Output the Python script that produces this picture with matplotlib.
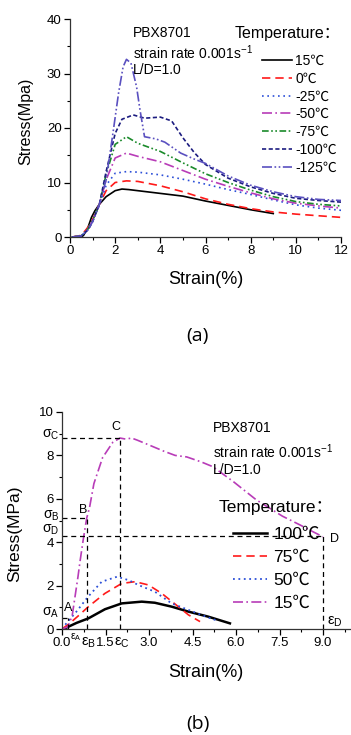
import matplotlib
matplotlib.use('Agg')
import matplotlib.pyplot as plt
from matplotlib.ticker import MultipleLocator

plt.rcParams['font.family'] = ['Liberation Sans', 'Noto Sans CJK SC']
plt.rcParams['axes.linewidth'] = 0.9
plt.rcParams['axes.edgecolor'] = '#333333'

# ---- panel (a): stress-strain at low temperatures ----
temps_a = ['15℃', '0℃', '-25℃', '-50℃', '-75℃', '-100℃', '-125℃']

strain_a15 = [0.1, 0.5, 0.6, 0.8, 0.95, 1.1, 1.3, 1.6, 2.0, 2.3, 2.6, 3.0, 4.0, 5.0, 6.0, 7.0, 8.0, 9.0]
stress_a15 = [0, 0, 0.3, 1.8, 3.6, 4.8, 6.0, 7.4, 8.5, 8.8, 8.7, 8.5, 8.0, 7.5, 6.6, 5.8, 5.0, 4.3]

strain_a = [0.1, 0.5, 0.8, 1.0, 1.3, 1.6, 2.0, 2.5, 3.0, 4.0, 5.0, 6.0, 7.0, 8.0, 9.0, 10.0, 11.0, 12.0]
stress_a0 = [0, 0.3, 1.8, 3.2, 6.0, 8.5, 10.0, 10.3, 10.2, 9.4, 8.3, 7.0, 6.0, 5.2, 4.6, 4.2, 3.9, 3.6]
stress_am25 = [0, 0.2, 1.5, 3.0, 5.8, 9.5, 11.7, 12.0, 11.9, 11.4, 10.6, 9.7, 8.7, 7.8, 6.8, 5.9, 5.3, 4.9]
stress_am50 = [0, 0.2, 1.5, 3.0, 6.0, 10.5, 14.5, 15.4, 14.8, 13.8, 12.2, 10.6, 9.3, 8.1, 7.0, 6.2, 5.7, 5.3]
stress_am75 = [0, 0.2, 1.5, 3.0, 6.0, 11.5, 17.0, 18.4, 17.2, 15.7, 13.6, 11.6, 10.0, 8.6, 7.4, 6.5, 6.0, 5.7]

strain_am100 = [0.1, 0.5, 0.8, 1.0, 1.3, 1.6, 2.0, 2.3, 2.8, 3.3, 4.0, 4.5, 5.0, 5.5, 6.0, 7.0, 8.0, 9.0, 10.0, 11.0, 12.0]
stress_am100 = [0, 0.2, 1.3, 2.8, 6.0, 12.0, 19.0, 21.6, 22.4, 21.8, 22.0, 21.3, 18.2, 15.5, 13.3, 10.8, 9.2, 8.0, 7.1, 6.7, 6.4]

strain_am125 = [0.1, 0.5, 0.8, 1.0, 1.3, 1.6, 1.9, 2.15, 2.35, 2.5, 2.7, 2.95, 3.1, 3.3, 3.8, 4.2, 4.9, 5.5, 6.0, 7.0, 8.0, 9.0, 10.0, 11.0, 12.0]
stress_am125 = [0, 0.2, 1.3, 2.8, 6.0, 10.5, 19.0, 26.4, 31.2, 32.6, 31.9, 27.5, 23.3, 18.4, 18.0, 17.4, 15.4, 14.3, 13.5, 11.2, 9.5, 8.3, 7.4, 6.9, 6.7]

# ---- panel (b): stress-strain at high temperatures ----
temps_b = ['100℃', '75℃', '50℃', '15℃']

strain_b100 = [0, 0.1, 0.5, 0.91, 1.48, 2.06, 2.75, 3.2, 3.78, 4.36, 5.04, 5.79]
stress_b100 = [0, 0.03, 0.28, 0.49, 0.91, 1.18, 1.26, 1.21, 1.03, 0.8, 0.57, 0.26]

strain_b75 = [0, 0.3, 0.6, 0.91, 1.48, 2.06, 2.52, 2.98, 3.44, 4.01, 4.36, 4.76]
stress_b75 = [0, 0.3, 0.65, 1.03, 1.64, 2.1, 2.18, 2.03, 1.64, 1.03, 0.65, 0.34]

strain_b50 = [0, 0.2, 0.45, 0.9, 1.37, 1.9, 2.3, 2.63, 3.2, 3.78, 4.36, 4.9, 5.3]
stress_b50 = [0, 0.35, 0.72, 1.49, 2.18, 2.41, 2.25, 2.03, 1.72, 1.18, 0.88, 0.6, 0.41]

strain_b15 = [0, 0.2, 0.35, 0.45, 0.55, 0.62, 0.73, 0.85, 0.95, 1.1, 1.4, 1.75, 2.0, 2.2, 2.4, 2.6,
              3.0, 3.5, 3.9, 4.3, 4.8, 5.2, 5.9, 6.7, 7.6, 8.2, 8.7, 9.0]
stress_b15 = [0, 0.1, 0.6, 1.5, 2.4, 3.1, 4.1, 5.1, 5.6, 6.7, 7.9, 8.6, 8.8, 8.75, 8.8, 8.7,
              8.48, 8.2, 8.0, 7.93, 7.7, 7.48, 6.8, 5.95, 5.2, 4.8, 4.45, 4.25]

# characteristic points A, B, C, D (strain, stress)
pt_A = (0.22, 0.5)
pt_B = (0.85, 5.1)
pt_C = (2.0, 8.8)
pt_D = (9.0, 4.28)

fig = plt.figure(figsize=(3.51, 7.35), dpi=100)

# ================= (a) =================
ax1 = fig.add_axes([70/351, 1-237/735, 271/351, 218/735])
ax1.plot(strain_a15, stress_a15, color='black', lw=1.2, ls='-', label=temps_a[0])
ax1.plot(strain_a, stress_a0, color='#ff1a1a', lw=1.2, ls=(0, (5, 3)), label=temps_a[1])
ax1.plot(strain_a, stress_am25, color='#2c4fd8', lw=1.2, ls=(0, (1, 2.2)), label=temps_a[2])
ax1.plot(strain_a, stress_am50, color='#b83cb8', lw=1.2, ls=(0, (6, 2, 1, 2)), label=temps_a[3])
ax1.plot(strain_a, stress_am75, color='#1a8a2a', lw=1.2, ls=(0, (4, 1.5, 1, 1.5, 1, 1.5)), label=temps_a[4])
ax1.plot(strain_am100, stress_am100, color='#1c1c80', lw=1.2, ls=(0, (2.5, 1.5)), label=temps_a[5])
ax1.plot(strain_am125, stress_am125, color='#5a50c0', lw=1.2, ls=(0, (6, 1.5, 1, 1.5, 1, 1.5)), label=temps_a[6])

ax1.set_xlim(0, 12)
ax1.set_ylim(0, 40)
ax1.xaxis.set_major_locator(MultipleLocator(2))
ax1.xaxis.set_minor_locator(MultipleLocator(1))
ax1.yaxis.set_major_locator(MultipleLocator(10))
ax1.yaxis.set_minor_locator(MultipleLocator(5))
ax1.set_xlabel('Strain(%)', fontsize=13, labelpad=9.5)
ax1.set_ylabel('Stress(Mpa)', fontsize=11.5)
ax1.yaxis.set_label_coords(-0.137, 0.532)

ax1.text(2.8, 37.4, 'PBX8701', fontsize=10, va='center')
ax1.text(2.8, 33.8, r'strain rate 0.001s$^{\mathregular{-1}}$', fontsize=10, va='center')
ax1.text(2.8, 30.6, 'L/D=1.0', fontsize=10, va='center')

ax1.text(9.62, 37.4, 'Temperature：', fontsize=11.5, ha='center', va='center')
leg1 = ax1.legend(loc='upper right', bbox_to_anchor=(0.985, 0.84), frameon=False,
                  fontsize=10, handlelength=2.2, handletextpad=0.2, labelspacing=0.27,
                  borderpad=0, borderaxespad=0)

# ================= (b) =================
ax2 = fig.add_axes([62/351, 1-629/735, 288/351, 217/735])
ax2.plot(strain_b100, stress_b100, color='black', lw=1.8, ls='-', label=temps_b[0])
ax2.plot(strain_b75, stress_b75, color='#ff1a1a', lw=1.2, ls=(0, (5, 3)), label=temps_b[1])
ax2.plot(strain_b50, stress_b50, color='#2c4fd8', lw=1.3, ls=(0, (1, 2)), label=temps_b[2])
ax2.plot(strain_b15, stress_b15, color='#b83cb8', lw=1.2, ls=(0, (6, 2, 1, 2)), label=temps_b[3])

dash = dict(color='black', lw=0.9, ls=(0, (4, 3)))
for px, py in (pt_A, pt_B, pt_C):
    ax2.plot([0, px], [py, py], **dash)
    ax2.plot([px, px], [0, py], **dash)
ax2.plot([0, pt_D[0]], [pt_D[1], pt_D[1]], **dash)
ax2.plot([pt_D[0], pt_D[0]], [0, pt_D[1]], **dash)

ax2.set_xlim(0, 9.93)
ax2.set_ylim(0, 10)
ax2.xaxis.set_major_locator(MultipleLocator(1.5))
ax2.xaxis.set_minor_locator(MultipleLocator(0.75))
ax2.yaxis.set_major_locator(MultipleLocator(2))
ax2.yaxis.set_minor_locator(MultipleLocator(1))
ax2.xaxis.set_major_formatter(lambda v, p: '%.1f' % v)
ax2.set_xlabel('Strain(%)', fontsize=13, labelpad=10.5)
ax2.set_ylabel('Stress(MPa)', fontsize=12.5)
ax2.yaxis.set_label_coords(-0.139, 0.438)

ax2.text(5.2, 9.26, 'PBX8701', fontsize=10, va='center')
ax2.text(5.2, 8.16, r'strain rate 0.001s$^{\mathregular{-1}}$', fontsize=10, va='center')
ax2.text(5.2, 7.33, 'L/D=1.0', fontsize=10, va='center')

# point letters
ax2.text(0.2, 0.95, 'A', fontsize=9, ha='center', va='center')
ax2.text(pt_B[0] - 0.13, 5.48, 'B', fontsize=9, ha='center', va='center')
ax2.text(pt_C[0] - 0.13, 9.3, 'C', fontsize=9, ha='center', va='center')
ax2.text(pt_D[0] + 0.38, 4.15, 'D', fontsize=9, ha='center', va='center')

# sigma labels on the stress axis
for lab, yy in (('A', 0.75), ('B', 5.2), ('C', 8.95), ('D', 4.55)):
    ax2.text(-0.38, yy, r'$\mathregular{\sigma_{%s}}$' % lab, fontsize=10,
             ha='center', va='center', clip_on=False)

# epsilon labels on the strain axis
ax2.text(0.47, -0.08, r'ε$_{\mathregular{A}}$', fontsize=7.5, ha='center', va='top', clip_on=False)
ax2.text(0.9, -0.3, r'ε$_{\mathregular{B}}$', fontsize=10.5, ha='center', va='top', clip_on=False)
ax2.text(2.05, -0.3, r'ε$_{\mathregular{C}}$', fontsize=10.5, ha='center', va='top', clip_on=False)
ax2.text(9.4, 0.35, r'ε$_{\mathregular{D}}$', fontsize=10.5, ha='center', va='center')

ax2.text(7.38, 5.62, 'Temperature：', fontsize=12.5, ha='center', va='center')
leg2 = ax2.legend(loc='upper right', bbox_to_anchor=(0.895, 0.472), frameon=False,
                  fontsize=12.5, handlelength=2.0, handletextpad=0.35, labelspacing=0.45,
                  borderpad=0, borderaxespad=0)

for ax in (ax1, ax2):
    ax.spines['top'].set_visible(False)
    ax.spines['right'].set_visible(False)
    ax.tick_params(which='major', direction='out', length=4, width=0.9, labelsize=9.5, pad=2)
    ax.tick_params(which='minor', direction='out', length=2.5, width=0.8)

fig.text(197/351, 1-336/735, '(a)', fontsize=14, family='Open Sans', ha='center', va='center')
fig.text(198/351, 1-724/735, '(b)', fontsize=14, family='Open Sans', ha='center', va='center')

fig.savefig('out.png', dpi=100)
